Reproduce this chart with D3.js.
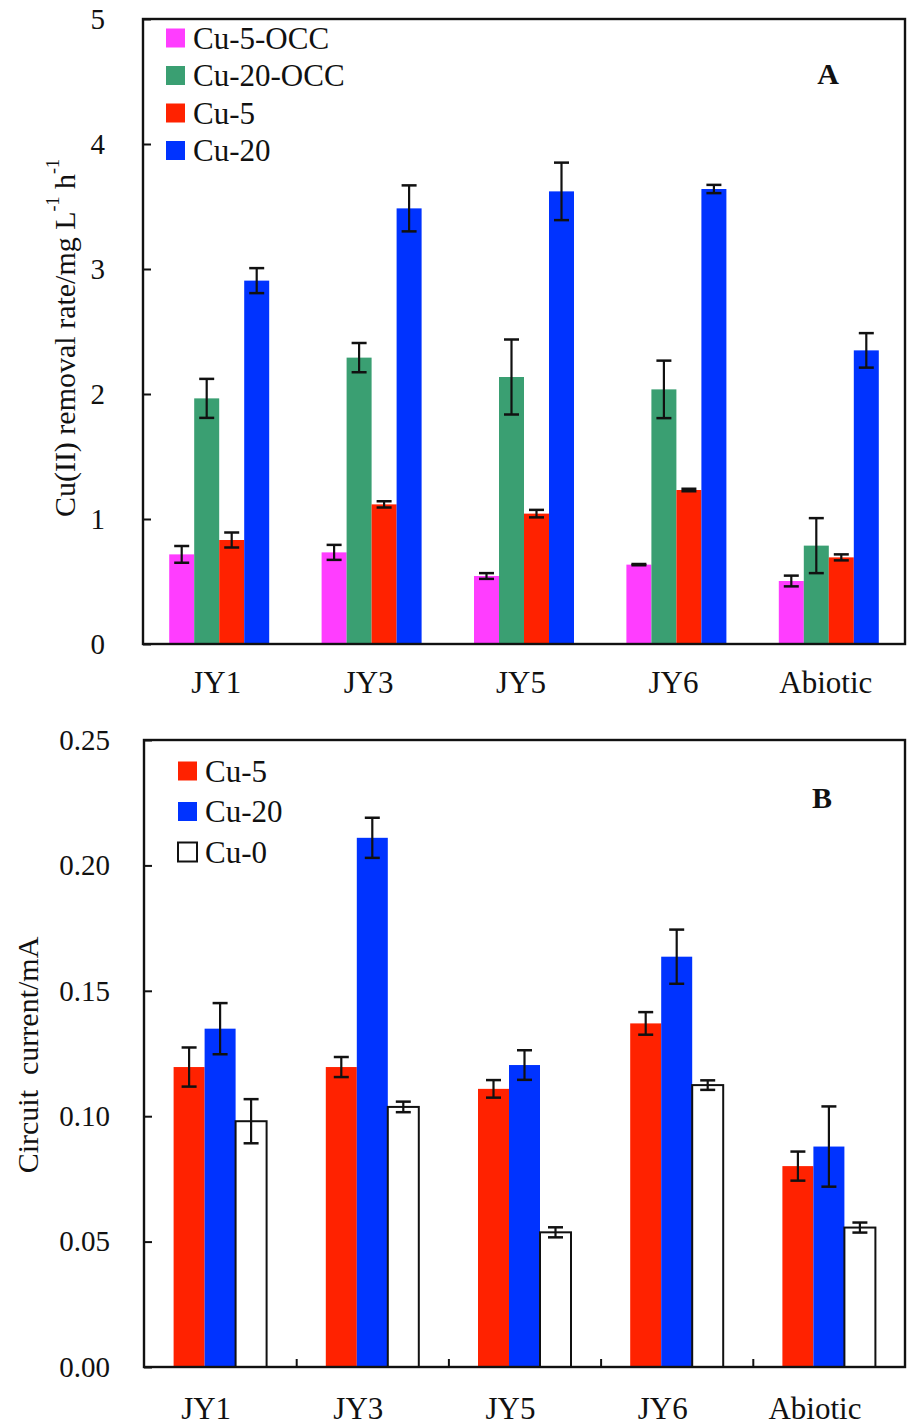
<!DOCTYPE html>
<html><head><meta charset="utf-8">
<script src="https://cdn.jsdelivr.net/npm/d3@7"></script>
<style>body{margin:0;background:#fff} svg{display:block} text{font-family:"Liberation Serif","Times New Roman",serif;fill:#111}</style>
</head><body><svg id="c" width="907" height="1428"></svg>
<script>
const categories = ["JY1","JY3","JY5","JY6","Abiotic"];

// Panel A: Cu(II) removal rate
const seriesA = ["Cu-5-OCC","Cu-20-OCC","Cu-5","Cu-20"];
const cu5occ     = [0.717,0.733,0.544,0.635,0.504];
const cu5occErr  = [0.067,0.060,0.023,0.005,0.043];
const cu20occ    = [1.965,2.291,2.136,2.037,0.787];
const cu20occErr = [0.156,0.117,0.300,0.230,0.220];
const cu5A       = [0.832,1.117,1.043,1.232,0.693];
const cu5AErr    = [0.060,0.025,0.030,0.010,0.024];
const cu20A      = [2.907,3.485,3.621,3.640,2.349];
const cu20AErr   = [0.100,0.184,0.230,0.033,0.138];
const ticksA = [0,1,2,3,4,5];

// Panel B: Circuit current
const seriesB = ["Cu-5","Cu-20","Cu-0"];
const cu5B     = [0.1196,0.1196,0.1109,0.1370,0.0801];
const cu5BErr  = [0.0078,0.0040,0.0035,0.0045,0.0058];
const cu20B    = [0.1349,0.2110,0.1204,0.1636,0.0879];
const cu20BErr = [0.0102,0.0080,0.0059,0.0108,0.0160];
const cu0B     = [0.0980,0.1037,0.0537,0.1124,0.0556];
const cu0BErr  = [0.0088,0.0021,0.0020,0.0019,0.0020];
const ticksB = [0,0.05,0.10,0.15,0.20,0.25];

const svg = d3.select("#c");

function panel(o){
  const g = svg.append("g");
  const x = d3.scaleBand().domain(categories).range([o.left,o.right]);
  const xb = d3.scaleLinear().domain([0,categories.length]).range([o.left,o.right]);
  const y = d3.scaleLinear().domain(o.domain).range([o.bottom,o.top]);
  const inner = d3.scaleBand().domain(o.series.map(s=>s.name)).range([0,o.groupW]);

  o.series.forEach(s=>{
    const gg = g.append("g");
    categories.forEach((c,i)=>{
      const bx = x(c)+x.bandwidth()/2-o.groupW/2+inner(s.name);
      gg.append("rect").attr("x",bx).attr("y",y(s.vals[i]))
        .attr("width",inner.bandwidth()).attr("height",y(0)-y(s.vals[i]))
        .attr("fill",s.fill).attr("stroke",s.stroke||"none").attr("stroke-width",s.stroke?2:0);
      const cx = bx+inner.bandwidth()/2, hi=y(s.vals[i]+s.err[i]), lo=y(s.vals[i]-s.err[i]);
      gg.append("line").attr("x1",cx).attr("x2",cx).attr("y1",hi).attr("y2",lo).attr("stroke","#111").attr("stroke-width",2.2);
      [hi,lo].forEach(v=>gg.append("line").attr("x1",cx-7.5).attr("x2",cx+7.5).attr("y1",v).attr("y2",v).attr("stroke","#111").attr("stroke-width",2.5));
    });
  });

  // y axis
  const ya = g.append("g").attr("transform",`translate(${o.left},0)`)
    .call(d3.axisLeft(y).tickValues(o.ticks).tickSize(-8).tickPadding(o.tickPad).tickFormat(o.fmt));
  ya.select(".domain").remove();
  ya.selectAll("line").attr("stroke","#111").attr("stroke-width",2);
  ya.selectAll("text").attr("font-size",29).attr("font-family","Liberation Serif").attr("fill","#111");

  // x labels
  const xa = g.append("g").attr("transform",`translate(${o.labelShift},${o.bottom})`)
    .call(d3.axisBottom(x).tickSize(0).tickPadding(o.xPad));
  xa.select(".domain").remove();
  xa.selectAll("text").attr("font-size",31).attr("font-family","Liberation Serif").attr("fill","#111");

  if(o.xTicks){
    const xt = g.append("g").attr("transform",`translate(0,${o.bottom})`)
      .call(d3.axisBottom(xb).tickValues([1,2,3,4]).tickSize(-8).tickFormat(""));
    xt.select(".domain").remove();
    xt.selectAll("line").attr("stroke","#111").attr("stroke-width",2);
  }

  // frame
  g.append("rect").attr("x",o.left).attr("y",o.top).attr("width",o.right-o.left).attr("height",o.bottom-o.top)
    .attr("fill","none").attr("stroke","#111").attr("stroke-width",2.4);

  // legend
  o.series.forEach((s,i)=>{
    const ly = o.legY + i*o.legStep;
    g.append("rect").attr("x",o.legX).attr("y",ly-9.5).attr("width",19).attr("height",19)
      .attr("fill",s.fill).attr("stroke",s.stroke||"none").attr("stroke-width",s.stroke?2:0);
    g.append("text").attr("x",o.legX+27).attr("y",ly).attr("dominant-baseline","central")
      .attr("font-size",31).text(s.name);
  });

  g.append("text").attr("x",o.tagX).attr("y",o.tagY).attr("dominant-baseline","central").attr("text-anchor","middle")
    .attr("font-size",30).attr("font-weight","bold").text(o.tag);
  return g;
}

const gA = panel({
  left:143,right:905,top:19,bottom:644,domain:[0,5],ticks:ticksA,fmt:d3.format("d"),tickPad:38,
  groupW:100,xPad:27,labelShift:-3,xTicks:false,
  series:[
    {name:seriesA[0],vals:cu5occ,err:cu5occErr,fill:"#ff3dff"},
    {name:seriesA[1],vals:cu20occ,err:cu20occErr,fill:"#3a9f72"},
    {name:seriesA[2],vals:cu5A,err:cu5AErr,fill:"#ff2200"},
    {name:seriesA[3],vals:cu20A,err:cu20AErr,fill:"#0033ff"}],
  legX:166,legY:38,legStep:37.5,tag:"A",tagX:828,tagY:73
});

const gB = panel({
  left:144,right:905,top:740,bottom:1367,domain:[0,0.25],ticks:ticksB,fmt:d3.format(".2f"),tickPad:34,
  groupW:93,xPad:30,labelShift:-14,xTicks:true,
  series:[
    {name:seriesB[0],vals:cu5B,err:cu5BErr,fill:"#ff2200"},
    {name:seriesB[1],vals:cu20B,err:cu20BErr,fill:"#0033ff"},
    {name:seriesB[2],vals:cu0B,err:cu0BErr,fill:"#ffffff",stroke:"#111"}],
  legX:178,legY:771,legStep:40.5,tag:"B",tagX:822,tagY:797
});

// axis titles
const tA = svg.append("text").attr("transform","translate(64,338) rotate(-90)")
  .attr("text-anchor","middle").attr("dominant-baseline","central").attr("font-size",30);
tA.append("tspan").text("Cu(II)  removal rate/mg L");
tA.append("tspan").attr("font-size",18).attr("dy",-11).text("-1");
tA.append("tspan").attr("dy",11).text(" h");
tA.append("tspan").attr("font-size",18).attr("dy",-11).text("-1");

svg.append("text").attr("transform","translate(27,1055) rotate(-90)")
  .attr("text-anchor","middle").attr("dominant-baseline","central").attr("font-size",30)
  .attr("xml:space","preserve").text("Circuit  current/mA");
</script></body></html>
